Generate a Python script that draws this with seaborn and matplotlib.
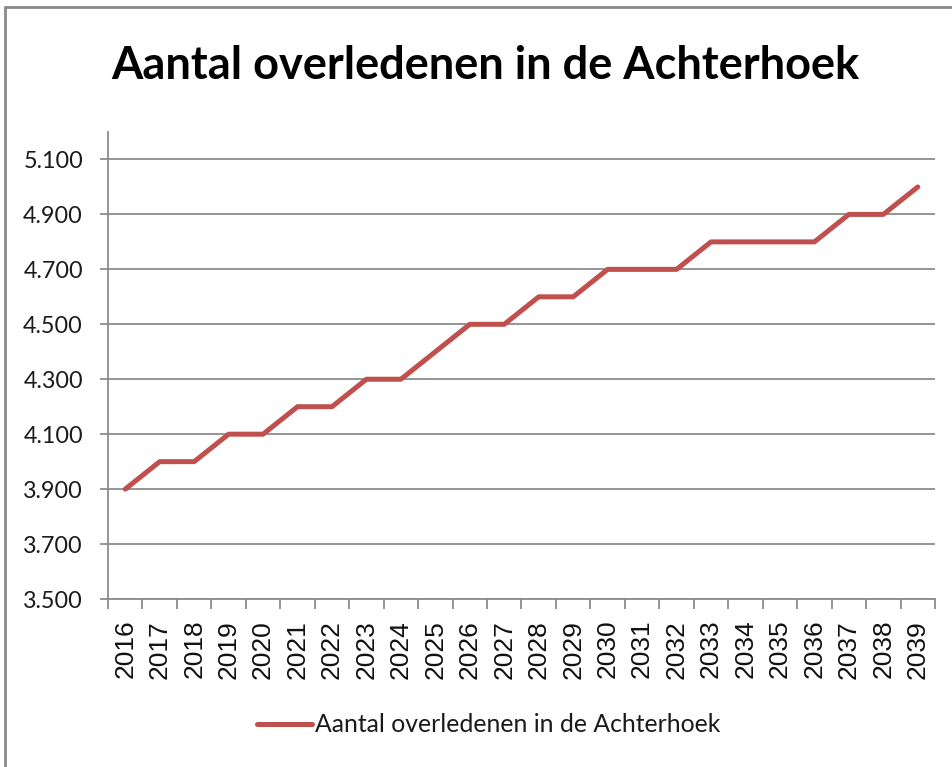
import numpy as np
import pandas as pd
import seaborn as sns
import matplotlib.pyplot as plt
from matplotlib.lines import Line2D

# data
jaren = [str(j) for j in range(2016, 2040)]
overledenen = [3900, 4000, 4000, 4100, 4100, 4200, 4200, 4300, 4300, 4400, 4500, 4500,
               4600, 4600, 4700, 4700, 4700, 4800, 4800, 4800, 4800, 4900, 4900, 5000]
y_ticks = list(range(3500, 5200, 200))
titel = 'Aantal overledenen in de Achterhoek'

df = pd.DataFrame({'jaar': jaren, 'aantal': overledenen})

sns.set_style('white')
plt.rcParams['font.family'] = ['Lato', 'DejaVu Sans']

W, H = 953, 767
fig = plt.figure(figsize=(W / 100, H / 100), dpi=100)
ax = fig.add_axes([108 / W, 1 - 599 / H, (935 - 108) / W, (599 - 132) / H])

sns.lineplot(data=df, x='jaar', y='aantal', ax=ax, color='#C0504D', linewidth=3.6,
             label=titel, legend=False, solid_capstyle='round', solid_joinstyle='round')

grid_col = '#8C8C8C'
ax.set_xlim(-0.5, len(jaren) - 0.5)
ax.set_ylim(3500, 5200)
ax.set_yticks(y_ticks)
ax.set_yticklabels([f'{v:,}'.replace(',', '.') for v in y_ticks], fontsize=16.8, color='#1a1a1a')
ax.yaxis.grid(True, color=grid_col, linewidth=1.3)
ax.set_axisbelow(True)
ax.tick_params(axis='y', length=6, width=1.3, color=grid_col, pad=12, left=True)

ax.set_xticks(range(len(jaren)))
ax.set_xticklabels(jaren, rotation=90, fontsize=19, family='Liberation Sans', color='#111111')
ax.set_xticks(np.arange(-0.5, len(jaren), 1), minor=True)
ax.tick_params(axis='x', which='major', length=0, pad=15)
ax.tick_params(axis='x', which='minor', length=7, width=1.3, color=grid_col, bottom=True)

for s in ['top', 'right']:
    ax.spines[s].set_visible(False)
for s in ['left', 'bottom']:
    ax.spines[s].set_color(grid_col)
    ax.spines[s].set_linewidth(1.3)
ax.set_xlabel('')
ax.set_ylabel('')

fig.text(485 / W, 1 - 66 / H, titel, ha='center', va='center', fontsize=32.5,
         fontweight='bold', color='black')

h = Line2D([], [], color='#C0504D', linewidth=3.6, solid_capstyle='round')
leg = fig.legend([h], [titel], loc='center', bbox_to_anchor=(489 / W, 1 - 725 / H), frameon=False,
                 fontsize=17.8, handlelength=2.2, handletextpad=0.16)
leg.get_texts()[0].set_color('#1a1a1a')

# chart border (left and top visible in the crop)
fig.add_artist(Line2D([5 / W, 5 / W], [0, 1 - 7 / H], color='#8A8A8A', linewidth=2))
fig.add_artist(Line2D([5 / W, 1], [1 - 7 / H, 1 - 7 / H], color='#8A8A8A', linewidth=2))

fig.savefig('out.png', dpi=100)
